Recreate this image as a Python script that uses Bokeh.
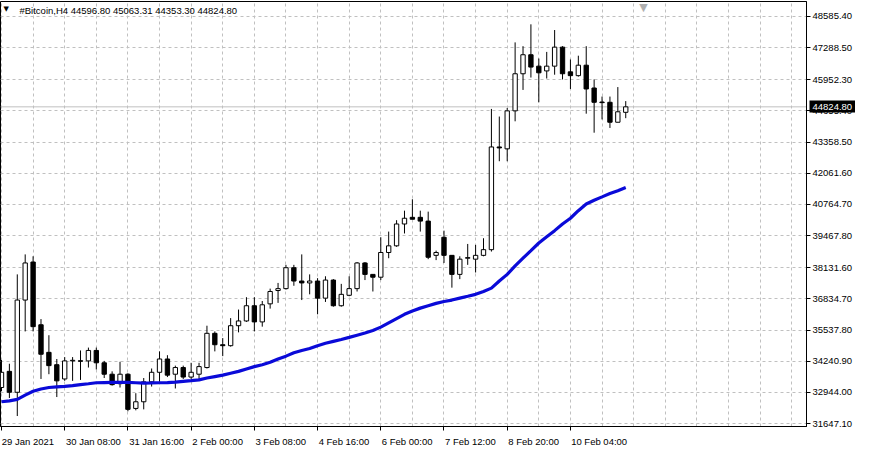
from bokeh.plotting import figure
from bokeh.models import (Range1d, FixedTicker, Span, Label, NumeralTickFormatter,
                          CustomJSTickFormatter, LinearAxis)
from bokeh.embed import file_html
from bokeh.resources import INLINE

symbol = "#Bitcoin,H4"

opens = [33150, 33822, 32952, 36788, 38370, 35760, 34613, 34099, 33506, 34257,
         34257, 34257, 34692, 34178, 33703, 33308, 33703, 32280, 32557, 33387,
         33783, 34336, 33703, 33981, 33585, 33703, 33981, 35404, 34930, 34890,
         35721, 35918, 36551, 35879, 36630, 37184, 37263, 38133, 37579, 37500,
         37579, 36867, 37619, 36551, 36986, 37263, 38331, 37856, 37738, 38766,
         39043, 39952, 40229, 40229, 40071, 38647, 39399, 38647, 37856, 38528,
         38489, 38647, 38884, 43156, 43077, 44658, 46201, 46992, 46517, 46319,
         46517, 47308, 46280, 46122, 46557, 45608, 45014, 45014, 44184, 44596.80]

highs = [34297, 34139, 37856, 38687, 38608, 35997, 35325, 34336, 34415, 34415,
         34692, 34811, 34811, 34257, 33822, 34218, 33743, 32913, 33545, 33941,
         34653, 34494, 34060, 34060, 34178, 34178, 35721, 35483, 35206, 36037,
         36393, 36907, 36907, 36749, 37263, 37500, 38252, 38252, 38687, 37856,
         37698, 37777, 37658, 37461, 37777, 38370, 38370, 37856, 39399, 39636,
         40110, 40506, 40980, 40506, 40466, 38845, 39675, 38647, 38608, 39122,
         39082, 39359, 44738, 44421, 44777, 47506, 47348, 48257, 46834, 47110,
         48020, 47348, 46794, 46952, 47348, 45964, 45252, 45252, 45647, 45063.31]

lows = [32992, 32715, 31964, 35483, 35483, 33506, 33703, 32754, 33427, 33427,
        33466, 33981, 33901, 33545, 33229, 33150, 32161, 32201, 32241, 33190,
        33387, 33585, 33110, 33506, 33506, 33506, 33941, 34653, 34455, 34851,
        35444, 35879, 35483, 35681, 36432, 36670, 37223, 37382, 36788, 37026,
        36195, 36709, 36512, 36512, 36947, 37144, 37619, 37144, 37619, 38528,
        39003, 39557, 40150, 39636, 38489, 38449, 38331, 37303, 37658, 38252,
        37935, 38608, 38805, 42562, 42562, 44223, 45528, 46043, 45014, 46003,
        46161, 45964, 45568, 46082, 44540, 43749, 44302, 43947, 44184, 44353.30]

closes = [33783, 32952, 36788, 38331, 35681, 34534, 34060, 33427, 34257, 34270,
          34240, 34692, 34178, 33703, 33269, 33703, 32241, 32557, 33387, 33783,
          34336, 33664, 33981, 33585, 33783, 34020, 35404, 34930, 34890, 35721,
          35918, 36551, 35879, 36591, 37144, 37263, 38133, 37579, 37500, 37579,
          36867, 37619, 36551, 37026, 37263, 38331, 37856, 37738, 38766, 39043,
          39952, 40190, 40150, 40071, 38568, 38766, 38647, 37856, 38489, 38540,
          38647, 38884, 43156, 43116, 44658, 46201, 46992, 46478, 46240, 46517,
          47308, 46201, 46122, 46557, 45568, 45014, 45000, 44184, 44619, 44824.80]

ma = [32557, 32596, 32655, 32833, 32992, 33090, 33150, 33176, 33200, 33227,
      33269, 33308, 33348, 33356, 33360, 33360, 33360, 33348, 33336, 33340,
      33348, 33356, 33376, 33407, 33435, 33466, 33545, 33605, 33664, 33743,
      33822, 33921, 34020, 34099, 34198, 34336, 34455, 34593, 34692, 34771,
      34890, 34989, 35068, 35147, 35234, 35325, 35415, 35522, 35661, 35838,
      36016, 36194, 36333, 36452, 36551, 36650, 36729, 36788, 36867, 36946,
      37026, 37144, 37283, 37580, 37856, 38212, 38528, 38844, 39161, 39418,
      39675, 39952, 40190, 40506, 40783, 40941, 41079, 41218, 41336, 41466]

date_labels = ["29 Jan 2021", "30 Jan 08:00", "31 Jan 16:00", "2 Feb 00:00",
               "3 Feb 08:00", "4 Feb 16:00", "6 Feb 00:00", "7 Feb 12:00",
               "8 Feb 20:00", "10 Feb 04:00"]
date_label_bars = [0, 8, 16, 24, 32, 40, 48, 56, 64, 72]

price_ticks = [31647.10, 32944.00, 34240.90, 35537.80, 36834.70, 38131.60,
               39467.80, 40764.70, 42061.60, 43358.50, 44655.40, 45952.30,
               47288.50, 48585.40]

FONT = "Liberation Sans"
FS = "9.5px"

n = len(opens)
idx = list(range(n))
last = closes[-1]
x_lo, x_hi = -0.125, 101.875
y_lo, y_hi = 31528.3, 49206.4

W, H = 855, 449
p = figure(width=W, height=H, output_backend="svg", toolbar_location=None,
           x_range=Range1d(x_lo, x_hi), y_range=Range1d(y_lo, y_hi),
           y_axis_location="right", min_border_left=0, min_border_top=1,
           min_border_right=0, min_border_bottom=0)
p.background_fill_color = "white"
p.border_fill_color = "white"
p.outline_line_color = "black"
p.outline_line_width = 1

# grids
p.xgrid.ticker = FixedTicker(ticks=list(range(0, 101, 4)))
p.ygrid.ticker = FixedTicker(ticks=price_ticks)
for g in (p.xgrid, p.ygrid):
    g.grid_line_color = "#c0c0c0"
    g.grid_line_dash = "3 3"
    g.grid_line_width = 1

# y axis (right)
ya = p.yaxis[0]
ya.ticker = FixedTicker(ticks=price_ticks)
ya.formatter = NumeralTickFormatter(format="0.00")
ya.major_tick_out = 4
ya.major_tick_in = 0
ya.minor_tick_out = 0
ya.minor_tick_in = 0
ya.major_label_standoff = 2
ya.axis_line_color = "black"
ya.major_tick_line_color = "black"
ya.major_label_text_font = FONT
ya.major_label_text_font_size = FS
ya.major_label_text_color = "black"

# second axis: its inward tick is the black last-price box, its label the white text
ya2 = LinearAxis(ticker=FixedTicker(ticks=[last]),
                 formatter=NumeralTickFormatter(format="0.00"))
ya2.axis_line_color = None
ya2.minor_tick_line_color = None
ya2.major_tick_in = 46
ya2.major_tick_out = 2
ya2.major_tick_line_width = 12
ya2.major_tick_line_color = "black"
ya2.major_tick_line_cap = "butt"
ya2.major_label_standoff = -45
ya2.major_label_text_font = FONT
ya2.major_label_text_font_size = FS
ya2.major_label_text_color = "white"
p.add_layout(ya2, "right")

# x axis: label centres shifted so labels start at their tick
px_per_bar = (W - 47) / (x_hi - x_lo)
centers = [round(b + len(l) * 4.6 / 2 / px_per_bar + 0.15, 4)
           for b, l in zip(date_label_bars, date_labels)]
xa = p.xaxis[0]
xa.ticker = FixedTicker(ticks=centers, minor_ticks=date_label_bars)
xa.formatter = CustomJSTickFormatter(args=dict(c=centers, l=date_labels), code="""
    for (let i = 0; i < c.length; i++) { if (Math.abs(c[i] - tick) < 1e-6) return l[i]; }
    return "";
""")
xa.major_tick_out = 0
xa.major_tick_in = 0
xa.minor_tick_out = 4
xa.minor_tick_in = 0
xa.minor_tick_line_color = "black"
xa.major_label_standoff = 5
xa.axis_line_color = "black"
xa.major_label_text_font = FONT
xa.major_label_text_font_size = FS
xa.major_label_text_color = "black"

# last price line
p.add_layout(Span(location=last, dimension="width", line_color="#c0c0c0",
                  line_width=1, level="underlay"))

# candles
up = [c >= o for o, c in zip(opens, closes)]
body_top = [max(max(o, c), min(o, c) + 25) for o, c in zip(opens, closes)]
body_bot = [min(o, c) for o, c in zip(opens, closes)]
fills = ["white" if u else "black" for u in up]
p.segment(x0=idx, y0=lows, x1=idx, y1=highs, line_color="black", line_width=1)
p.vbar(x=idx, width=0.55, top=body_top, bottom=body_bot, fill_color=fills,
       line_color="black", line_width=1)

# moving average
p.line(idx, ma, line_color="#0a0ad8", line_width=3.2)

# header text
ypx = (y_hi - y_lo) / (H - 18)
p.add_layout(Label(x=3, y=y_hi - 4 * ypx, x_units="screen", text="▼",
                   text_font="DejaVu Sans", text_font_size="7px",
                   text_baseline="top", text_color="black"))
header = symbol + "  " + " ".join(f"{v:.2f}" for v in
                                  (opens[-1], highs[-1], lows[-1], closes[-1]))
p.add_layout(Label(x=19, y=y_hi - 4 * ypx, x_units="screen", text=header,
                   text_font=FONT, text_font_size=FS, text_baseline="top",
                   text_color="black"))

# chart shift marker
p.add_layout(Label(x=81.25, y=y_hi + 1 * ypx, text="▼", text_font="DejaVu Sans",
                   text_font_size="11px", text_align="center",
                   text_baseline="top", text_color="#b0b0b0"))

open("out.html", "w").write(file_html(p, INLINE))
